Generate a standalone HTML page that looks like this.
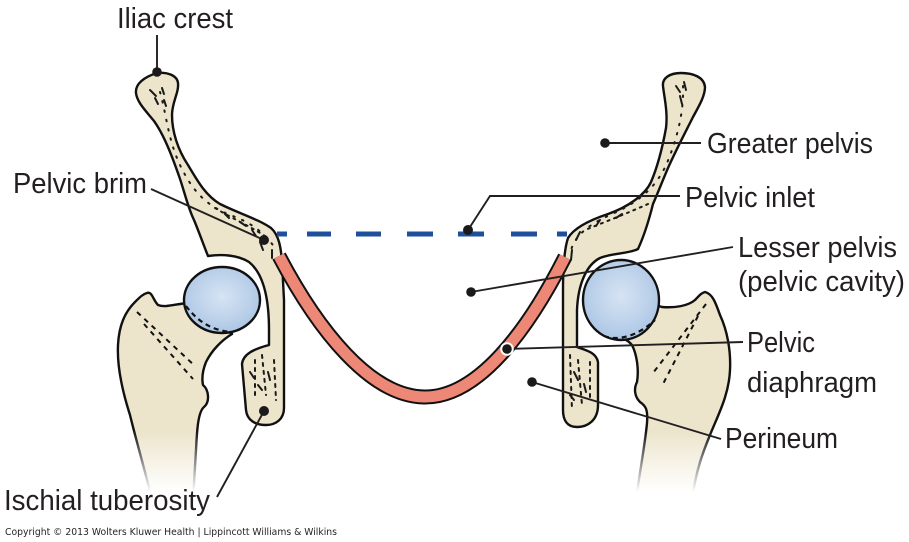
<!DOCTYPE html>
<html><head><meta charset="utf-8"><style>
html,body{margin:0;padding:0;background:#fff;}
svg{display:block;}
text{font-family:"Liberation Sans",Arial,sans-serif;fill:#231f20;}
</style></head><body>
<svg width="909" height="542" viewBox="0 0 909 542" xmlns="http://www.w3.org/2000/svg">
<defs>
  <linearGradient id="fade" gradientUnits="userSpaceOnUse" x1="0" y1="430" x2="0" y2="492">
    <stop offset="0" stop-color="#fff"/>
    <stop offset="1" stop-color="#000"/>
  </linearGradient>
  <mask id="fm" maskUnits="userSpaceOnUse" x="0" y="0" width="909" height="542">
    <rect x="0" y="0" width="909" height="542" fill="url(#fade)"/>
  </mask>
  <radialGradient id="hb" cx="0.5" cy="0.45" r="0.6">
    <stop offset="0" stop-color="#d6e4f3"/>
    <stop offset="0.6" stop-color="#bcd1ea"/>
    <stop offset="1" stop-color="#a9c3e4"/>
  </radialGradient>
</defs>

<!-- Femurs -->
<g mask="url(#fm)">
<g stroke="#111" stroke-width="2.4" stroke-linejoin="round" fill="#ece4cb">
  <path d="M147,293 C152,291 153,300 158,305 C165,308 175,304 188,303 L232,334 C222,340 212,350 206,362 C202,372 202,380 203,385 C209,390 210,402 204,407 C198,412 197,430 196,450 L193,500 L152,500 C145,470 136,440 130,415 C122,390 117,365 118,345 C119,325 125,312 135,302 C140,297 143,294 147,293 Z"/>
  <path d="M705,292 C713,294 716,304 720,315 C727,330 731,350 730,370 C729,395 718,415 710,435 C703,452 696,470 692,500 L636,500 C640,470 645,445 647,423 C648,410 646,406 640,402 C634,396 634,388 637,382 C639,370 637,355 632,345 C626,338 618,336 610,337 L640,300 L662,307 C675,308 688,306 695,300 C699,296 701,293 705,292 Z"/>
  <g fill="none" stroke-width="2" stroke-dasharray="5 5">
    <path d="M137,312 L195,366"/>
    <path d="M144,324 L193,379"/>
    <path d="M706,304 L653,373"/>
    <path d="M698,316 L662,386"/>
  </g>
</g>
</g>

<!-- Femoral heads -->
<g stroke="#111" stroke-width="2.4">
  <ellipse cx="222" cy="300" rx="38" ry="33" fill="url(#hb)"/>
  <ellipse cx="621" cy="300" rx="38" ry="40" fill="url(#hb)"/>
</g>
<g stroke="#111" stroke-width="2.2" fill="none" stroke-dasharray="5 4">
  <path d="M186,306 C198,322 212,330 230,332"/>
  <path d="M604,336 C620,342 640,334 655,320"/>
</g>

<!-- Hip bones -->
<g stroke="#111" stroke-width="2.4" stroke-linejoin="round" fill="#ece4cb">
  <path d="M136,93 C135,84 144,77 157,73 C167,72 177,75 178,83 C179,93 172,102 172,115 C172,132 178,150 188,165 C197,180 205,195 220,204 C238,213 258,219 271,228 C279,235 281,248 282,262 L284,300 L284,408 C284,419 276,425 266,425 C255,425 247,420 246,410 L242,364 C243,354 254,349 269,345 L269,330 C269,300 264,274 249,262 C238,255 222,254 208,256 C204,246 199,232 194,220 C188,208 184,190 179,176 C172,156 164,135 154,121 C145,110 137,102 136,93 Z"/>
  <path d="M663,86 C662,78 670,73 681,73 C693,73 704,77 705,87 C705,96 699,106 693,117 C686,131 676,150 668,168 C662,182 657,195 653,204 C649,220 644,236 638,249 C628,254 612,253 600,258 C586,265 578,285 577,310 L577,347 C585,350 596,352 598,362 L598,405 C598,420 588,427 577,427 C567,427 563,420 563,410 L563,290 C563,270 564,250 568,238 C574,228 590,220 608,214 C628,207 645,195 651,182 C657,168 662,150 666,128 C668,112 664,96 663,86 Z"/>
</g>

<!-- Speckles -->
<g stroke="#1a1a1a" stroke-width="2" stroke-linecap="round" fill="none">
  <path d="M160,92 C166,112 168,140 180,165 C192,190 205,205 230,215 C250,222 264,232 275,248" stroke-dasharray="1.5 8"/>
  <path d="M150,90 L156,96 M155,98 L158,104 M162,88 L164,94 M164,100 L166,106" />
  <path d="M215,208 C235,220 250,226 268,238" stroke-dasharray="2 5"/>
  <path d="M225,214 L229,218 M240,222 L246,226 M252,230 L256,236 M260,242 L263,250 M272,250 L272,258"/>
  <path d="M255,360 L255,400 M262,355 L266,395 M274,360 L276,400" stroke-dasharray="3 5"/>
  <path d="M250,372 L254,378 M258,385 L262,390 M268,372 L270,380"/>
  <path d="M683,86 C684,110 678,135 669,158 C660,182 644,200 612,214 C590,224 576,234 571,250" stroke-dasharray="1.5 8"/>
  <path d="M676,86 L680,92 M684,82 L686,90 M680,96 L682,104"/>
  <path d="M648,204 C630,212 610,220 585,230" stroke-dasharray="2 5"/>
  <path d="M622,214 L616,218 M600,220 L596,226 M580,232 L576,240 M572,250 L571,260"/>
  <path d="M570,355 L572,410 M578,360 L582,405 M590,362 L590,402" stroke-dasharray="3 5"/>
  <path d="M574,372 L578,380 M584,384 L586,392 M570,395 L574,400"/>
</g>

<!-- Pelvic diaphragm muscle -->
<path d="M279,256 C318,330 370,396 424,397 C478,398 528,330 565,257" fill="none" stroke="#111" stroke-width="15"/>
<path d="M279,256 C318,330 370,396 424,397 C478,398 528,330 565,257" fill="none" stroke="#ee8876" stroke-width="11"/>

<!-- Pelvic inlet dashes -->
<g stroke="#1d4f9c" stroke-width="5">
  <line x1="277" y1="234" x2="287" y2="234"/>
  <line x1="307" y1="234" x2="331" y2="234"/>
  <line x1="356" y1="234" x2="381" y2="234"/>
  <line x1="407" y1="234" x2="433" y2="234"/>
  <line x1="458" y1="234" x2="484" y2="234"/>
  <line x1="511" y1="234" x2="537" y2="234"/>
  <line x1="557" y1="234" x2="567" y2="234"/>
</g>

<!-- Leader lines -->
<g stroke="#231f20" stroke-width="1.9" fill="none">
  <line x1="157" y1="35" x2="157" y2="72"/>
  <line x1="151" y1="189" x2="264" y2="240"/>
  <line x1="264" y1="411" x2="217" y2="497"/>
  <line x1="605" y1="143" x2="701" y2="143"/>
  <polyline points="468,230 490,196 680,196"/>
  <line x1="471" y1="292" x2="733" y2="247"/>
  <line x1="507" y1="349" x2="743" y2="342"/>
  <line x1="532" y1="382" x2="721" y2="439"/>
</g>
<g fill="#1a1a1a">
  <circle cx="157" cy="72" r="4.8"/>
  <circle cx="264" cy="240" r="5"/>
  <circle cx="264" cy="411" r="5"/>
  <circle cx="605" cy="143" r="4.8"/>
  <circle cx="468" cy="230" r="5"/>
  <circle cx="471" cy="292" r="4.8"/>
  <circle cx="507" cy="349" r="6.8" fill="#fff"/>
  <circle cx="507" cy="349" r="4.8"/>
  <circle cx="532" cy="382" r="4.8"/>
</g>

<!-- Labels -->
<g font-size="29">
  <text x="117" y="28" textLength="116" lengthAdjust="spacingAndGlyphs">Iliac crest</text>
  <text x="13" y="193" textLength="134" lengthAdjust="spacingAndGlyphs">Pelvic brim</text>
  <text x="707" y="153" textLength="166" lengthAdjust="spacingAndGlyphs">Greater pelvis</text>
  <text x="685" y="207" textLength="130" lengthAdjust="spacingAndGlyphs">Pelvic inlet</text>
  <text x="738" y="257" textLength="159" lengthAdjust="spacingAndGlyphs">Lesser pelvis</text>
  <text x="738" y="291" textLength="167" lengthAdjust="spacingAndGlyphs">(pelvic cavity)</text>
  <text x="747" y="352" textLength="68" lengthAdjust="spacingAndGlyphs">Pelvic</text>
  <text x="747" y="392" textLength="130" lengthAdjust="spacingAndGlyphs">diaphragm</text>
  <text x="725" y="448" textLength="113" lengthAdjust="spacingAndGlyphs">Perineum</text>
  <text x="4" y="510" textLength="206" lengthAdjust="spacingAndGlyphs">Ischial tuberosity</text>
</g>
<text x="5" y="535" font-size="9.5" style="font-family:'DejaVu Sans','Liberation Sans',sans-serif" textLength="332" lengthAdjust="spacingAndGlyphs">Copyright © 2013 Wolters Kluwer Health | Lippincott Williams &amp; Wilkins</text>
</svg>
</body></html>
